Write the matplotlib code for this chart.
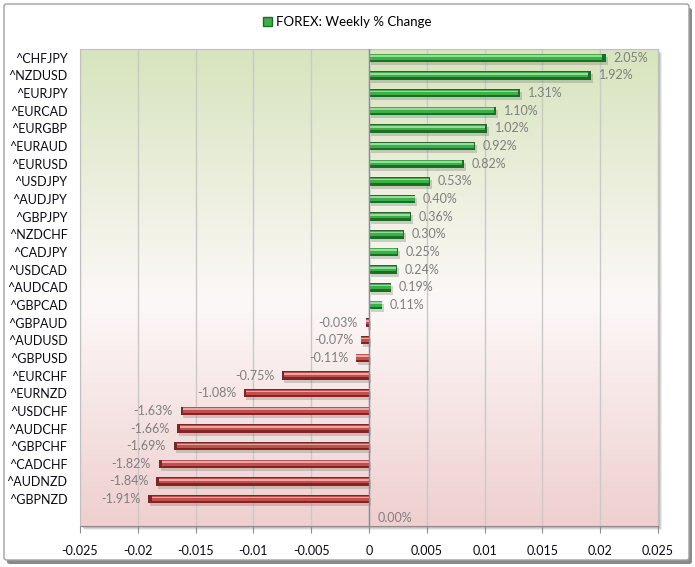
import numpy as np
import matplotlib
matplotlib.use("Agg")
from matplotlib import pyplot as plt
from matplotlib import transforms
from matplotlib.colors import LinearSegmentedColormap
from matplotlib.patches import Patch, FancyBboxPatch, Rectangle

plt.rcParams['font.family'] = ['Lato', 'DejaVu Sans']

# weekly change, top to bottom (last row is the empty category)
pairs = ["^CHFJPY", "^NZDUSD", "^EURJPY", "^EURCAD", "^EURGBP", "^EURAUD",
         "^EURUSD", "^USDJPY", "^AUDJPY", "^GBPJPY", "^NZDCHF", "^CADJPY",
         "^USDCAD", "^AUDCAD", "^GBPCAD", "^GBPAUD", "^AUDUSD", "^GBPUSD",
         "^EURCHF", "^EURNZD", "^USDCHF", "^AUDCHF", "^GBPCHF", "^CADCHF",
         "^AUDNZD", "^GBPNZD", ""]
change = [0.0205, 0.0192, 0.0131, 0.0110, 0.0102, 0.0092, 0.0082, 0.0053,
          0.0040, 0.0036, 0.0030, 0.0025, 0.0024, 0.0019, 0.0011, -0.0003,
          -0.0007, -0.0011, -0.0075, -0.0108, -0.0163, -0.0166, -0.0169,
          -0.0182, -0.0184, -0.0191, 0.0]
xticks = [-0.025, -0.02, -0.015, -0.01, -0.005, 0, 0.005, 0.01, 0.015, 0.02, 0.025]
xtick_labels = ["-0.025", "-0.02", "-0.015", "-0.01", "-0.005", "0",
                "0.005", "0.01", "0.015", "0.02", "0.025"]
title = "FOREX: Weekly % Change"

W, H = 695, 567
fig = plt.figure(figsize=(W / 100, H / 100), dpi=100)

# outer chart box with shadow
shadow = FancyBboxPatch((7 / W, 1 - 564 / H), 685 / W, 556 / H,
                        boxstyle="round,pad=0,rounding_size=0.004",
                        transform=fig.transFigure, fc="#8a8a8a", ec="none", zorder=0)
box = FancyBboxPatch((4 / W, 1 - 560 / H), 685 / W, 556 / H,
                     boxstyle="round,pad=0,rounding_size=0.004",
                     transform=fig.transFigure, fc="white", ec="#a0a0a0", lw=1, zorder=0.5)
fig.patches.extend([shadow, box])

ax_l, ax_t, ax_r, ax_b = 80, 49, 658, 525.6
pos = [ax_l / W, 1 - ax_b / H, (ax_r - ax_l) / W, (ax_b - ax_t) / H]

# plot area shadow
for k, a in [(4, 0.12), (3, 0.15), (2, 0.2)]:
    fig.patches.append(Rectangle((pos[0] + k / W, pos[1] - k / H), pos[2], pos[3],
                                 transform=fig.transFigure, fc="#606060", ec="none",
                                 alpha=a, zorder=0.8))

ax = fig.add_axes(pos)
ax.set_zorder(1)

n = len(pairs)
y = np.arange(n)

# gradient background green -> white -> pink
cmap = LinearSegmentedColormap.from_list("bg", [(0, "#d7e4bd"), (0.53, "#fdf8f8"), (1, "#efcfcf")])
grad = np.linspace(0, 1, 256).reshape(-1, 1)
ax.imshow(grad, cmap=cmap, aspect="auto", extent=[-0.025, 0.025, n - 0.5, -0.5], zorder=0)

ax.set_xlim(-0.025, 0.025)
ax.set_ylim(n - 0.5, -0.5)

for t in xticks:
    ax.axvline(t, color="#c9c9c9", lw=1, zorder=1)
ax.axvline(0, color="#8c8c8c", lw=1, zorder=4)

vals = np.array(change)
green = ("#1f6b28", "#3fae4a", "#8fe098")
red = ("#7d2624", "#c0504d", "#eea4a2")

shadow_tr = ax.transData + transforms.ScaledTranslation(2 / 100, -3 / 100, fig.dpi_scale_trans)
bh = 0.48
for i, v in enumerate(vals):
    if v == 0:
        continue
    dark, mid, light = green if v > 0 else red
    inner = v * 0.985 if abs(v) > 0.0005 else v
    ax.barh(y[i], v, height=bh, color="#707070", alpha=0.3, zorder=2, transform=shadow_tr)
    ax.barh(y[i], v, height=bh, color=dark, zorder=3)
    ax.barh(y[i] - 0.05, inner, height=bh * 0.62, color=mid, zorder=3)
    ax.barh(y[i] - 0.1, inner, height=bh * 0.2, color=light, zorder=3)

for i, v in enumerate(vals):
    txt = "%.2f%%" % (v * 100)
    if v > 0:
        ax.annotate(txt, (v, y[i]), xytext=(5.5, 0), textcoords="offset points",
                    ha="left", va="center", fontsize=9, color="#7f7f7f", zorder=5)
    elif v < 0:
        ax.annotate(txt, (v, y[i]), xytext=(-5.5, 0), textcoords="offset points",
                    ha="right", va="center", fontsize=9, color="#7f7f7f", zorder=5)
    else:
        ax.annotate(txt, (v, y[i]), xytext=(6, -1), textcoords="offset points",
                    ha="left", va="center", fontsize=9, color="#7f7f7f", zorder=5)

ax.set_yticks(y)
ax.set_yticklabels(pairs, fontsize=9, color="#0a0a14")
ax.tick_params(axis="y", length=0, pad=9)
ax.set_xticks(xticks)
ax.set_xticklabels(xtick_labels, fontsize=9, color="#0a0a14")
ax.tick_params(axis="x", direction="out", length=5, color="#8c8c8c", pad=9)

for s in ["top", "left", "right"]:
    ax.spines[s].set_color("#c0c0c0")
ax.spines["bottom"].set_color("#8c8c8c")

handle = Patch(facecolor="#3fae4a", edgecolor="#1f6b28")
fig.legend([handle], [title], loc="center", bbox_to_anchor=(0.5, 1 - 22 / H),
           frameon=False, fontsize=9.5, handlelength=0.7, handleheight=0.7,
           handletextpad=0.3)

fig.savefig("out.png", dpi=100)
